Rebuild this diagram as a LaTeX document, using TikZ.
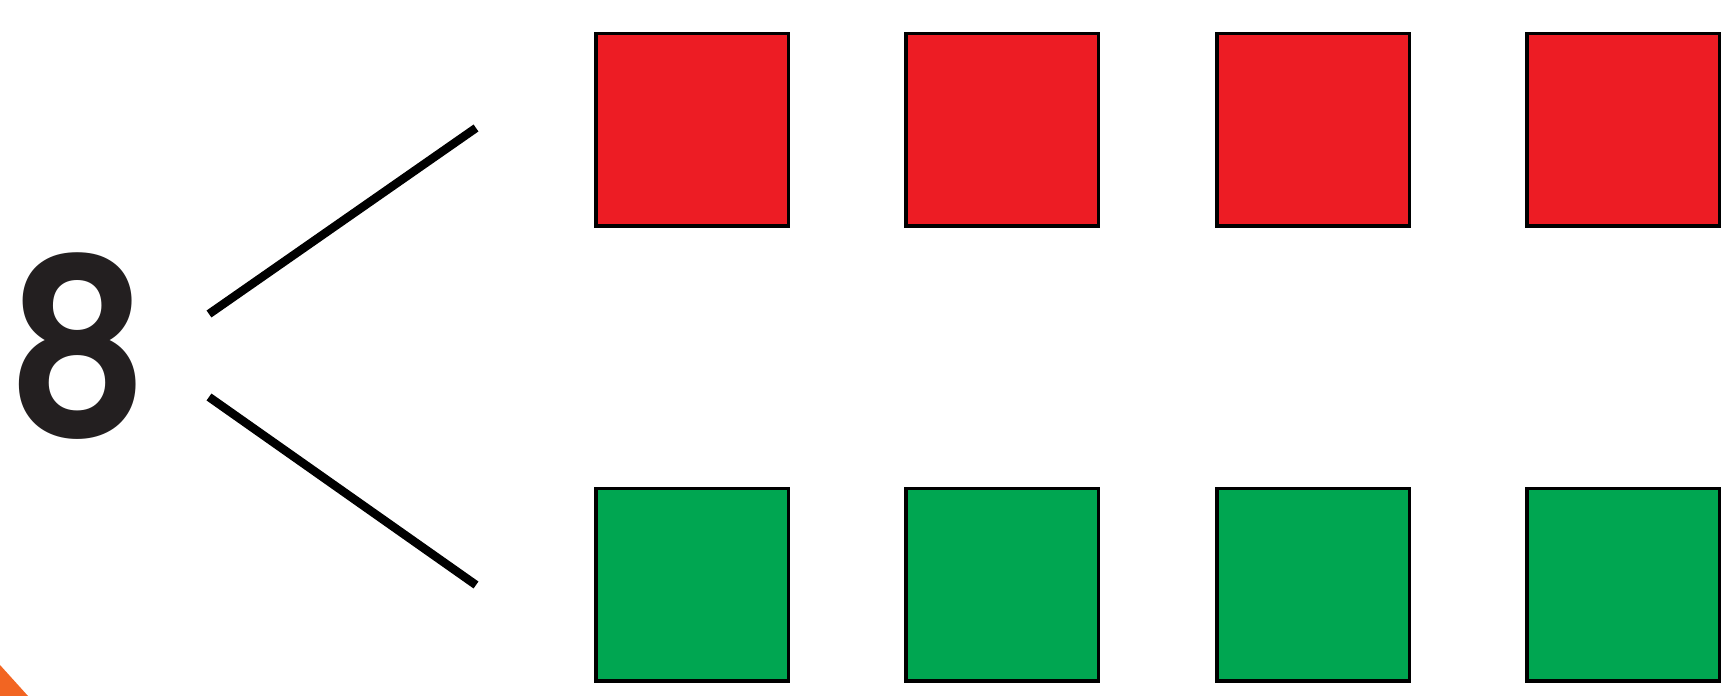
\documentclass[tikz,border=0pt]{standalone}
\usepackage{fontspec}
\usepackage{xcolor}
\usepackage{tikz}
\newfontfamily\digitfont{Poppins SemiBold}
\definecolor{sqred}{RGB}{237,28,36}
\definecolor{sqgreen}{RGB}{0,166,81}
\definecolor{digitblack}{RGB}{35,31,32}
\definecolor{cornerorange}{RGB}{242,101,34}

\begin{document}
\begin{tikzpicture}[
  redsq/.style={draw=black, line width=0.35mm, fill=sqred, minimum size=1.925cm, inner sep=0pt},
  greensq/.style={draw=black, line width=0.35mm, fill=sqgreen, minimum size=1.925cm, inner sep=0pt},
  branch/.style={line width=0.85mm, draw=black}
]
\useasboundingbox (0,0) rectangle (17.27,6.96);

% Number to split
\node[font=\digitfont\fontsize{70}{70}\selectfont, text=digitblack, inner sep=0pt, xscale=0.9] (eight) at (0.775,3.495) {8};

% Branch lines
\coordinate (upstart) at (2.09,3.82);
\coordinate (upend) at (4.76,5.68);
\coordinate (lowstart) at (2.09,2.99);
\coordinate (lowend) at (4.76,1.11);
\draw[branch] (upstart) -- (upend);
\draw[branch] (lowstart) -- (lowend);

% Red row
\node[redsq] (r1) at (6.92,5.66) {};
\node[redsq] (r2) at (10.02,5.66) {};
\node[redsq] (r3) at (13.13,5.66) {};
\node[redsq] (r4) at (16.23,5.66) {};

% Green row
\node[greensq] (g1) at (6.92,1.11) {};
\node[greensq] (g2) at (10.02,1.11) {};
\node[greensq] (g3) at (13.13,1.11) {};
\node[greensq] (g4) at (16.23,1.11) {};

% Corner mark
\fill[cornerorange] (0,0.31) -- (0,0) -- (0.28,0) -- cycle;

\end{tikzpicture}
\end{document}
